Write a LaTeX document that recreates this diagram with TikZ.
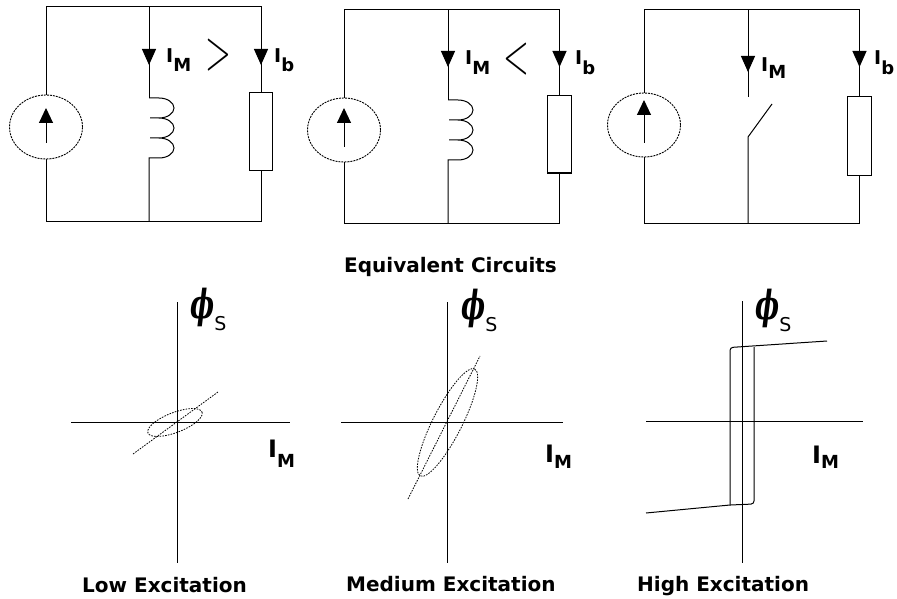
\RequirePackage{fix-cm}
\documentclass[tikz,border=0pt]{standalone}
\usepackage{fontspec}
\setmainfont{DejaVu Sans}
\newfontfamily\phifont{DejaVu Serif}
\usepackage{graphicx}
\usetikzlibrary{arrows.meta,shapes.geometric}
\tikzset{
  wire/.style={line width=1pt, line cap=butt},
  srcell/.style={ellipse, draw, dash pattern=on 2pt off 1pt, line width=0.9pt, inner sep=0pt, minimum width=73pt, minimum height=64pt},
  resbox/.style={rectangle, draw, line width=1pt, inner sep=0pt, minimum width=23pt, minimum height=78pt},
  curtip/.style={line width=1pt, -{Triangle[width=14pt,length=16pt]}},
  srctip/.style={line width=1pt, -{Triangle[width=14pt,length=15pt]}},
  dashline/.style={line width=0.8pt, dash pattern=on 1.6pt off 1.2pt},
  axis/.style={line width=1pt},
  lbl/.style={anchor=base west, inner sep=0pt},
  ttl/.style={anchor=base west, inner sep=0pt, font=\fontsize{20}{20}\selectfont\bfseries},
}
\newcommand\bigI{\fontsize{19}{19}\selectfont\bfseries I}
\newcommand\plotI{\fontsize{24}{24}\selectfont\bfseries I}
\newcommand\subsc[1]{{\fontsize{18}{18}\selectfont\bfseries #1}}
\newcommand\phiS{{\phifont\fontsize{32}{32}\selectfont\bfseries\itshape\scalebox{0.8}[1.25]{ϕ}}\raisebox{-12pt}{\fontsize{19}{19}\selectfont S}}
\newcommand\chev[1]{{\fontsize{34}{34}\selectfont\scalebox{1}[1.7]{$#1$}}}
\begin{document}
\begin{tikzpicture}[x=1pt,y=-1pt]
\fill[white] (0,0) rectangle (897,599);
\useasboundingbox (0,0) rectangle (897,599);

% ---------------- Circuit 1 ----------------
\node[srcell] (s1) at (46,127) {};
\node[resbox] (r1) at (261,131.5) {};
\coordinate (t1l) at (46,7); \coordinate (t1m) at (149,7); \coordinate (t1r) at (261,7);
\coordinate (b1l) at (46,221); \coordinate (b1m) at (149,221); \coordinate (b1r) at (261,221);
\coordinate (l1a) at (149,98); \coordinate (l1b) at (149,158);
\draw[wire] (s1.north) -- (t1l) -- (t1r) -- (r1.north);
\draw[wire] (r1.south) -- (b1r) -- (b1l) -- (s1.south);
\draw[wire] (t1m) -- (l1a);
\draw[wire] (l1a) -- ++(10,0) arc[start angle=-90,end angle=90,x radius=15,y radius=10]
  -- ++(-9,0) -- ++(9,0) arc[start angle=-90,end angle=90,x radius=15,y radius=10]
  -- ++(-9,0) -- ++(9,0) arc[start angle=-90,end angle=90,x radius=15,y radius=10]
  -- (l1b) -- (b1m);
\draw[srctip] ([yshift=-16pt]s1.center) -- ([yshift=19pt]s1.center);
\draw[curtip] (149,49) -- (149,65);
\draw[curtip] (261,49) -- (261,65);
\node[lbl] (im1) at (166,63) {\bigI\raisebox{-9pt}{\subsc{M}}};
\node[lbl] (ib1) at (274,63) {\bigI\raisebox{-9pt}{\subsc{b}}};
\node[inner sep=0pt] (gt1) at (218,55) {\chev{>}};

% ---------------- Circuit 2 ----------------
\node[srcell] (s2) at (344,130) {};
\node[resbox, minimum width=24pt, minimum height=77pt] (r2) at (559.5,134.5) {};
\coordinate (t2l) at (344,10); \coordinate (t2m) at (448,10); \coordinate (t2r) at (559.5,10);
\coordinate (b2l) at (344,223); \coordinate (b2m) at (448,223); \coordinate (b2r) at (559.5,223);
\coordinate (l2a) at (448,100); \coordinate (l2b) at (448,160);
\draw[wire] (s2.north) -- (t2l) -- (t2r) -- (r2.north);
\draw[wire] (r2.south) -- (b2r) -- (b2l) -- (s2.south);
\draw[wire] (t2m) -- (l2a);
\draw[wire] (l2a) -- ++(10,0) arc[start angle=-90,end angle=90,x radius=15,y radius=10]
  -- ++(-9,0) -- ++(9,0) arc[start angle=-90,end angle=90,x radius=15,y radius=10]
  -- ++(-9,0) -- ++(9,0) arc[start angle=-90,end angle=90,x radius=15,y radius=10]
  -- (l2b) -- (b2m);
\draw[srctip] ([yshift=-17pt]s2.center) -- ([yshift=22pt]s2.center);
\draw[curtip] (448,52) -- (448,67);
\draw[curtip] (559.5,52) -- (559.5,67);
\node[lbl] (im2) at (465,65) {\bigI\raisebox{-10pt}{\subsc{M}}};
\node[lbl] (ib2) at (575,65) {\bigI\raisebox{-10pt}{\subsc{b}}};
\node[inner sep=0pt] (lt2) at (516.5,59.5) {\chev{<}};

% ---------------- Circuit 3 ----------------
\node[srcell] (s3) at (644,125) {};
\node[resbox, minimum width=24pt] (r3) at (859.5,136) {};
\coordinate (t3l) at (644,10); \coordinate (t3m) at (748,10); \coordinate (t3r) at (859.5,10);
\coordinate (b3l) at (644,223); \coordinate (b3m) at (748,223); \coordinate (b3r) at (859.5,223);
\coordinate (sw3a) at (748,97); \coordinate (sw3b) at (748,137); \coordinate (sw3c) at (772,104);
\draw[wire] (s3.north) -- (t3l) -- (t3r) -- (r3.north);
\draw[wire] (r3.south) -- (b3r) -- (b3l) -- (s3.south);
\draw[wire] (t3m) -- (sw3a);
\draw[wire] (b3m) -- (sw3b) -- (sw3c);
\draw[srctip] ([yshift=-18pt]s3.center) -- ([yshift=25pt]s3.center);
\draw[curtip] (748,57) -- (748,72);
\draw[curtip] (859.5,52) -- (859.5,67);
\node[lbl] (im3) at (761,72) {\bigI\raisebox{-7pt}{\subsc{M}}};
\node[lbl] (ib3) at (874,65) {\bigI\raisebox{-10pt}{\subsc{b}}};

% ---------------- caption ----------------
\node[ttl] (eqc) at (344,272) {Equivalent Circuits};

% ---------------- Plot 1 ----------------
\draw[axis] (177,302) -- (177,563);
\draw[axis] (71,422) -- (290,422);
\draw[dashline] (133,454) -- (218,392);
\draw[dashline, rotate around={21:(175,422.5)}] (175,422.5) ellipse[x radius=29, y radius=10];
\node[lbl] (ph1) at (190,318) {\phiS};
\node[lbl] (pi1) at (268,457) {\plotI\raisebox{-10pt}{\subsc{M}}};
\node[ttl] (low) at (82,592) {Low Excitation};

% ---------------- Plot 2 ----------------
\draw[axis] (447,302) -- (447,563);
\draw[axis] (341,422) -- (563,422);
\draw[dashline] (408,499) -- (480,356);
\draw[dashline, rotate around={63:(447.5,422.5)}] (447.5,422.5) ellipse[x radius=60, y radius=14.5];
\node[lbl] (ph2) at (461,319) {\phiS};
\node[lbl] (pi2) at (545,462) {\plotI\raisebox{-6pt}{\subsc{M}}};
\node[ttl] (med) at (346,591) {Medium Excitation};

% ---------------- Plot 3 ----------------
\draw[axis] (742,301) -- (742,563);
\draw[axis] (646,421) -- (863,421);
\draw[axis, rounded corners=3pt] (827,341) -- (730,347.5) -- (730,505);
\draw[axis, rounded corners=3pt] (646,513) -- (730,505) -- (754,504) -- (754,347);
\node[lbl] (ph3) at (755,319) {\phiS};
\node[lbl] (pi3) at (812,463) {\plotI\raisebox{-5pt}{\subsc{M}}};
\node[ttl] (high) at (637,591) {High Excitation};
\end{tikzpicture}
\end{document}
